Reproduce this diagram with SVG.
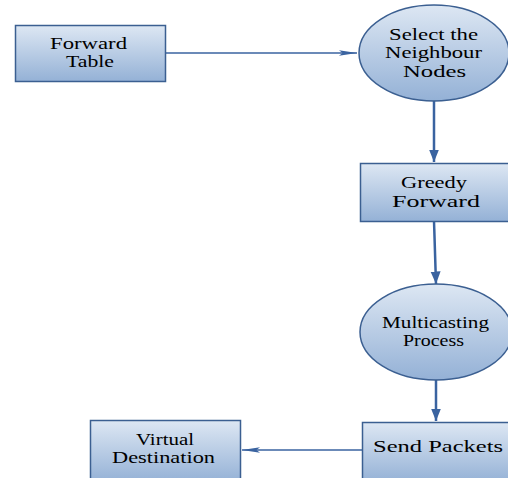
<svg xmlns="http://www.w3.org/2000/svg" width="508" height="478" viewBox="0 0 508 478">
<defs>
<linearGradient id="g" x1="0" y1="0" x2="0" y2="1">
<stop offset="0" stop-color="#dde7f3"/>
<stop offset="1" stop-color="#94b1d6"/>
</linearGradient>
<marker id="ah" viewBox="0 0 10 10" refX="10" refY="5" markerWidth="5" markerHeight="5" orient="auto" markerUnits="strokeWidth">
<path d="M0,1 L10,5 L0,9 z" fill="#3a63a0"/>
</marker>
<marker id="ahs" viewBox="0 0 20 10" refX="20" refY="5" markerWidth="12" markerHeight="6" orient="auto" markerUnits="strokeWidth">
<path d="M0,2 L20,5 L0,8 L4,5 z" fill="#3a63a0"/>
</marker>
</defs>
<style>
.n{fill:url(#g);stroke:#3b5f91;stroke-width:1.5}
.t{font-family:"Liberation Serif","Times New Roman",serif;font-size:16.5px;fill:#000;text-anchor:middle}
.c{fill:none;stroke:#3a63a0}
</style>
<rect width="508" height="478" fill="#fff"/>
<g id="connectors">
<path class="c" d="M165,53 L357,53" stroke-width="1.5" marker-end="url(#ahs)"/>
<path class="c" d="M434,101 L434,162" stroke-width="2.5" marker-end="url(#ah)"/>
<path class="c" d="M434,221 L436,284" stroke-width="2.5" marker-end="url(#ah)"/>
<path class="c" d="M436,380 L436,421" stroke-width="2.5" marker-end="url(#ah)"/>
<path class="c" d="M362,450 L242,450" stroke-width="1.5" marker-end="url(#ahs)"/>
</g>
<g id="forward-table">
<rect class="n" x="15.5" y="25.5" width="150" height="56"/>
<text class="t" x="88.5" y="49" textLength="77" lengthAdjust="spacingAndGlyphs">Forward</text>
<text class="t" x="90" y="67" textLength="48" lengthAdjust="spacingAndGlyphs">Table</text>
</g>
<g id="select-neighbour">
<ellipse class="n" cx="434" cy="53" rx="75" ry="48"/>
<text class="t" x="433.5" y="40" textLength="89" lengthAdjust="spacingAndGlyphs">Select the</text>
<text class="t" x="433.5" y="58" textLength="97" lengthAdjust="spacingAndGlyphs">Neighbour</text>
<text class="t" x="434.5" y="77" textLength="63" lengthAdjust="spacingAndGlyphs">Nodes</text>
</g>
<g id="greedy-forward">
<rect class="n" x="360.5" y="163.5" width="150" height="58"/>
<text class="t" x="434" y="188" textLength="66" lengthAdjust="spacingAndGlyphs">Greedy</text>
<text class="t" x="436" y="207" textLength="88" lengthAdjust="spacingAndGlyphs">Forward</text>
</g>
<g id="multicasting">
<ellipse class="n" cx="436" cy="332" rx="76" ry="48"/>
<text class="t" x="435.5" y="328" textLength="107" lengthAdjust="spacingAndGlyphs">Multicasting</text>
<text class="t" x="433.5" y="346" textLength="61" lengthAdjust="spacingAndGlyphs">Process</text>
</g>
<g id="send-packets">
<rect class="n" x="362.5" y="422.5" width="150" height="60"/>
<text class="t" x="438" y="452" textLength="130" lengthAdjust="spacingAndGlyphs">Send Packets</text>
</g>
<g id="virtual-destination">
<rect class="n" x="90.5" y="420.5" width="150" height="62"/>
<text class="t" x="165" y="445" textLength="58" lengthAdjust="spacingAndGlyphs">Virtual</text>
<text class="t" x="163.5" y="463" textLength="103" lengthAdjust="spacingAndGlyphs">Destination</text>
</g>
</svg>
